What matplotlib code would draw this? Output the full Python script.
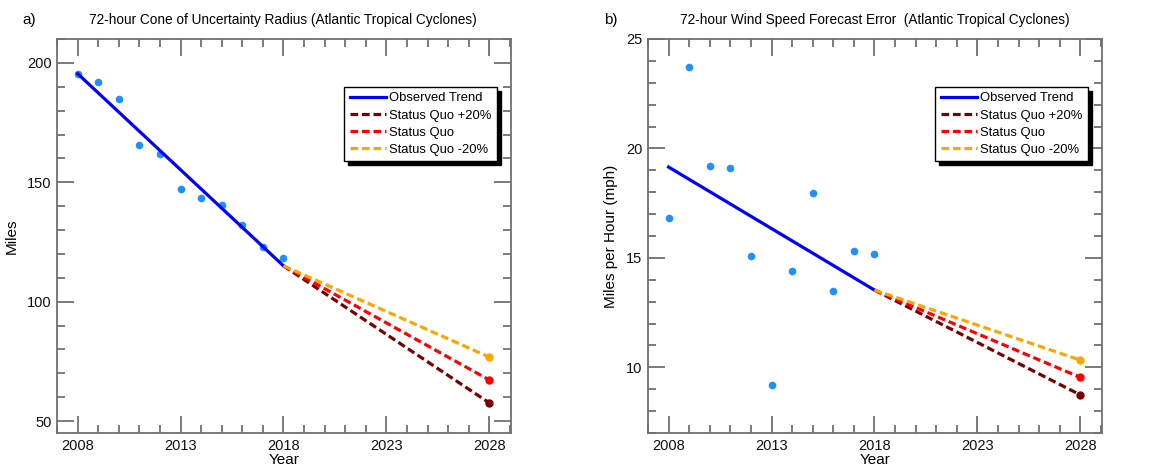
import matplotlib
matplotlib.use("Agg")
import matplotlib.pyplot as plt
from matplotlib.ticker import MultipleLocator

plt.rcParams['font.family'] = ['Liberation Sans', 'DejaVu Sans']

years = list(range(2008, 2019))
cone_obs = [195.4, 191.9, 185.0, 165.6, 162.0, 147.2, 143.6, 140.3, 132.3, 123.1, 118.4]
wind_obs = [16.82, 23.7, 19.22, 19.1, 15.08, 9.2, 14.4, 17.98, 13.47, 15.31, 15.2]

trend_years = [2008, 2018]
cone_trend = [195.5, 115.0]
wind_trend = [19.15, 13.53]

proj_years = [2018, 2028]
# 2028 end values: status quo +20%, status quo, status quo -20%
cone_proj = [57.6, 67.2, 76.8]
wind_proj = [8.74, 9.54, 10.33]

proj_labels = ['Status Quo +20%', 'Status Quo', 'Status Quo -20%']
proj_colors = ['#7a0000', '#ff0000', '#ffa500']

panels = [
    dict(tag='a)', title='72-hour Cone of Uncertainty Radius (Atlantic Tropical Cyclones)',
         obs=cone_obs, trend=cone_trend, proj=cone_proj, ylabel='Miles',
         ylim=(45, 210), major=50, minor=10, x0=57, title_x=283, tag_x=22),
    dict(tag='b)', title='72-hour Wind Speed Forecast Error  (Atlantic Tropical Cyclones)',
         obs=wind_obs, trend=wind_trend, proj=wind_proj, ylabel='Miles per Hour (mph)',
         ylim=(7, 25), major=5, minor=1, x0=648, title_x=875, tag_x=604),
]

W, H = 1157, 466
fig = plt.figure(figsize=(W / 100, H / 100), dpi=100)
spine_col = '#707070'

for p in panels:
    ax = fig.add_axes([p['x0'] / W, 1 - 433 / H, 454 / W, 394 / H])
    ax.scatter(years, p['obs'], s=30, color='#1e90ff', zorder=3, linewidths=0)
    ax.plot(trend_years, p['trend'], color='#0000ff', lw=2.3, label='Observed Trend', zorder=4)
    for val, lab, col in zip(p['proj'], proj_labels, proj_colors):
        ax.plot(proj_years, [p['trend'][1], val], color=col, lw=2.3,
                dashes=(2.4, 1.2), label=lab, zorder=4)
        ax.plot(proj_years[1], val, 'o', color=col, ms=5, zorder=5)
    ax.set_xlim(2007, 2029.05)
    ax.set_ylim(*p['ylim'])
    ax.xaxis.set_minor_locator(MultipleLocator(1))
    ax.set_xticks([2008, 2013, 2018, 2023, 2028])
    ax.yaxis.set_major_locator(MultipleLocator(p['major']))
    ax.yaxis.set_minor_locator(MultipleLocator(p['minor']))
    ax.tick_params(which='both', direction='in', top=True, right=True,
                   color=spine_col, width=1.3, labelsize=10.5, labelcolor='#111111')
    ax.tick_params(which='major', length=12, pad=4)
    ax.tick_params(which='minor', length=6)
    for s in ax.spines.values():
        s.set_color(spine_col)
        s.set_linewidth(1.3)
    ax.set_xlabel('Year', fontsize=11, labelpad=0)
    ax.set_ylabel(p['ylabel'], fontsize=11, labelpad=6)
    leg = ax.legend(loc='upper right', bbox_to_anchor=(0.969, 0.878), borderaxespad=0,
                    fontsize=9.4, frameon=True, fancybox=False, edgecolor='black',
                    shadow={'color': 'black', 'alpha': 1, 'ox': 3, 'oy': -3},
                    handlelength=2.8, handletextpad=0.25, labelspacing=0.38,
                    borderpad=0.4)
    leg.get_frame().set_linewidth(1.0)
    fig.text(p['title_x'] / W, 1 - 20 / H, p['title'], ha='center', va='center', fontsize=9.8)
    fig.text(p['tag_x'] / W, 1 - 20 / H, p['tag'], ha='left', va='center', fontsize=11)

fig.savefig('out.png', dpi=100)
